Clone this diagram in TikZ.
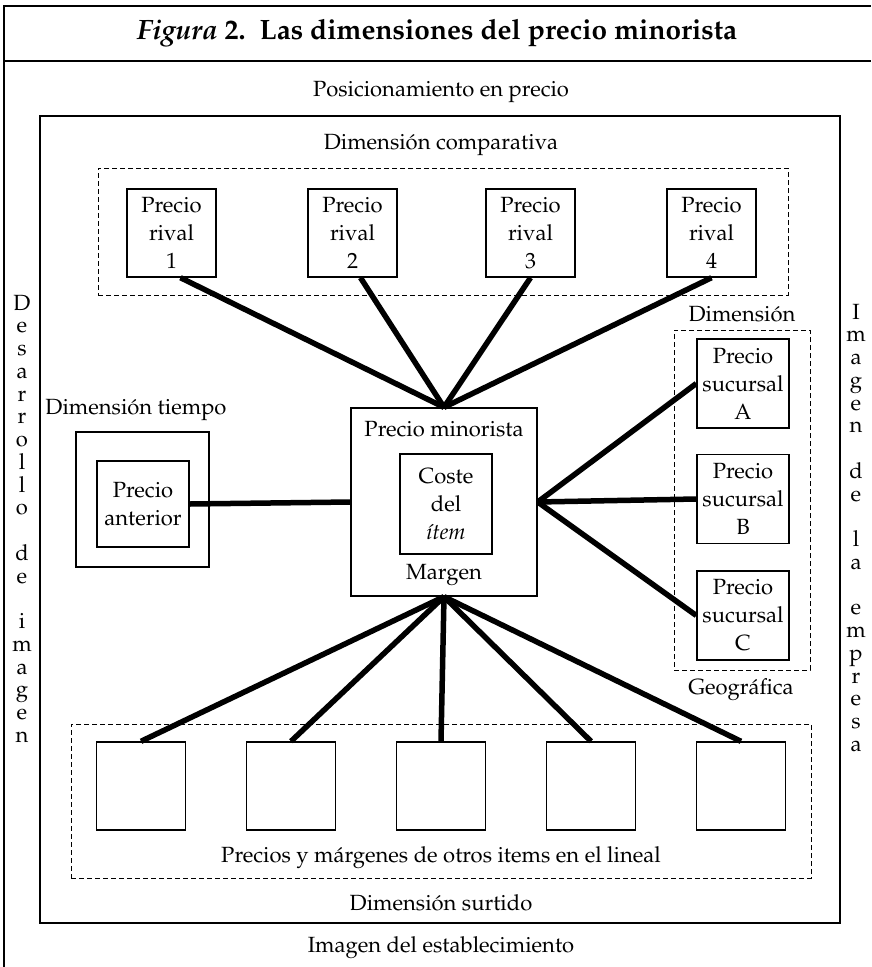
\documentclass[tikz,border=0pt]{standalone}
\usepackage[T1]{fontenc}
\renewcommand{\rmdefault}{ppl}
\begin{document}
\begin{tikzpicture}[x=1pt,y=-1pt,
  every node/.style={font=\fontsize{22}{28}\selectfont},
  bx/.style={draw, line width=1.4pt, inner sep=0pt, align=center},
  dbox/.style={draw, line width=1pt, dash pattern=on 5pt off 3pt, inner sep=0pt},
  rival/.style={bx, minimum width=89, minimum height=88},
  suc/.style={bx, minimum width=92, minimum height=89},
  small/.style={bx, minimum width=89, minimum height=88},
  lbl/.style={inner sep=0pt, align=center},
  conn/.style={line width=5.5pt},
  frame/.style={line width=1.4pt}
]
\useasboundingbox (0,0) rectangle (871,967);
% outer frame
\coordinate (tl) at (4,6);
\coordinate (tr) at (871,6);
\coordinate (bl) at (4,967);
\coordinate (hl) at (4,61);
\coordinate (hr) at (871,61);
\draw[frame] (bl) -- (tl) -- (tr);
\draw[frame] (hl) -- (hr);
\node[lbl, font=\fontsize{28}{32}\selectfont\bfseries] (title) at (437,33) {\textit{Figura}~2.\ \ Las dimensiones del precio minorista};

% main box
\node[bx, minimum width=800, minimum height=807] (main) at (440,519.5) {};
\node[lbl] (pos) at (441,92) {Posicionamiento en precio};
\node[lbl] (est) at (441,948) {Imagen del establecimiento};

% comparativa
\node[lbl] (dcomp) at (441,145) {Dimensi\'on comparativa};
\node[dbox, minimum width=690, minimum height=127] (comp) at (443,231.5) {};
\node[rival] (r1) at (171.5,233) {Precio\\rival\\1};
\node[rival] (r2) at (352.5,233) {Precio\\rival\\2};
\node[rival] (r3) at (530.5,233) {Precio\\rival\\3};
\node[rival] (r4) at (711.5,233) {Precio\\rival\\4};

% tiempo
\node[lbl] (dtiempo) at (136,410) {Dimensi\'on tiempo};
\node[bx, minimum width=133, minimum height=135] (tout) at (142.5,499.5) {};
\node[bx, minimum width=92, minimum height=86] (tin) at (143,504) {Precio\\anterior};

% centro
\node[bx, minimum width=186, minimum height=188] (pm) at (444,502) {};
\node[lbl] (pmt) at (444,429) {Precio minorista};
\node[bx, minimum width=92, minimum height=100] (coste) at (446,504) {Coste\\del\\\textit{\'{\i}tem}};
\node[lbl] (marg) at (444,575) {Margen};

% geografica
\node[lbl] (dgeo) at (742,314) {Dimensi\'on};
\node[dbox, minimum width=136, minimum height=340] (geo) at (742,500) {};
\node[suc] (sa) at (743,383.5) {Precio\\sucursal\\A};
\node[suc] (sb) at (743,499) {Precio\\sucursal\\B};
\node[suc] (sc) at (743,615.5) {Precio\\sucursal\\C};
\node[lbl] (geot) at (741,690) {Geogr\'afica};

% surtido
\node[dbox, minimum width=740, minimum height=154] (surt) at (441,801) {};
\node[small] (s1) at (141,786) {};
\node[small] (s2) at (291,786) {};
\node[small] (s3) at (441,786) {};
\node[small] (s4) at (591,786) {};
\node[small] (s5) at (741,786) {};
\node[lbl] (otros) at (441,858) {Precios y m\'argenes de otros items en el lineal};
\node[lbl] (dsurt) at (441,903) {Dimensi\'on surtido};

% vertical texts
\foreach \c [count=\i from 0] in {D,e,s,a,r,r,o,l,l,o,,d,e,,i,m,a,g,e,n}
  \node[inner sep=0pt, anchor=base] (L\i) at (22,{310+22.75*\i}) {\c};
\foreach \c [count=\i from 0] in {I,m,a,g,e,n,,d,e,,l,a,,e,m,p,r,e,s,a}
  \node[inner sep=0pt, anchor=base] (R\i) at (856,{319+22.75*\i}) {\c};

% connectors
\draw[conn] ([xshift=9pt]r1.south) -- (pm.north);
\draw[conn] ([xshift=8pt]r2.south) -- (pm.north);
\draw[conn] (r3.south) -- (pm.north);
\draw[conn] (r4.south) -- (pm.north);
\draw[conn] (tin.east) -- (pm.west);
\draw[conn] (pm.east) -- (sa.west);
\draw[conn] (pm.east) -- (sb.west);
\draw[conn] (pm.east) -- (sc.west);
\foreach \k in {1,...,5}
  \draw[conn] (pm.south) -- (s\k.north);
\end{tikzpicture}
\end{document}
